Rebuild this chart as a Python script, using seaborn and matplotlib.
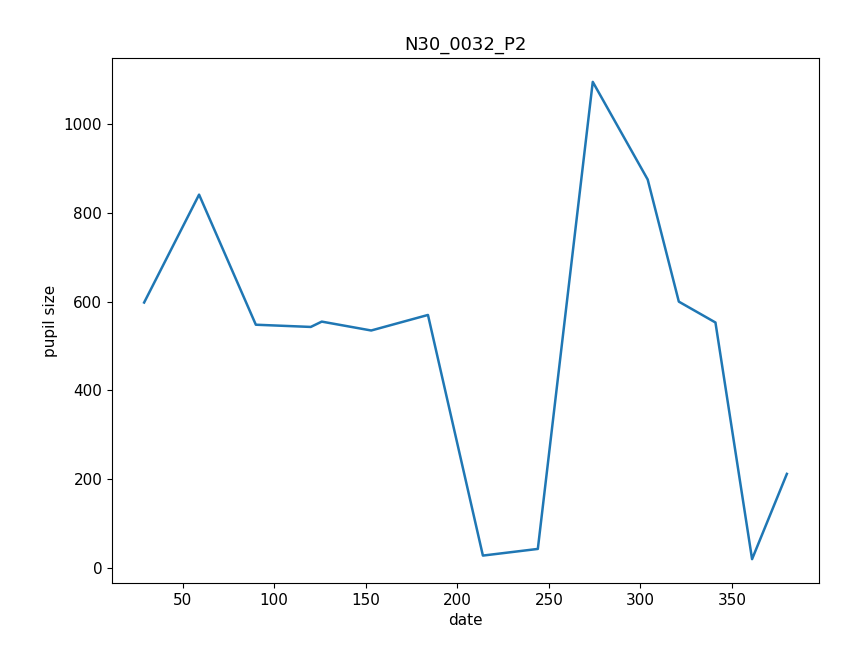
import matplotlib
matplotlib.use("Agg")
import matplotlib.pyplot as plt
import seaborn as sns
import pandas as pd

dates = [29, 59, 90, 120, 126, 153, 184, 214, 244, 274, 304, 321, 341, 361, 380]
pupil = [598, 841, 548, 543, 555, 535, 570, 28, 43, 1095, 875, 600, 553, 20, 212]
df = pd.DataFrame({"date": dates, "pupil size": pupil})

fig = plt.figure(figsize=(8.49, 6.45), dpi=100)
ax = fig.add_axes([112/849, 1-583/645, (819-112)/849, (583-58)/645])
sns.lineplot(data=df, x="date", y="pupil size", ax=ax, color="#1f77b4", linewidth=1.8)
ax.set_title("N30_0032_P2", fontsize=13)
ax.set_xlabel("date", fontsize=11)
ax.set_ylabel("pupil size", fontsize=11)
ax.tick_params(labelsize=11)
fig.savefig("out.png", dpi=100)
